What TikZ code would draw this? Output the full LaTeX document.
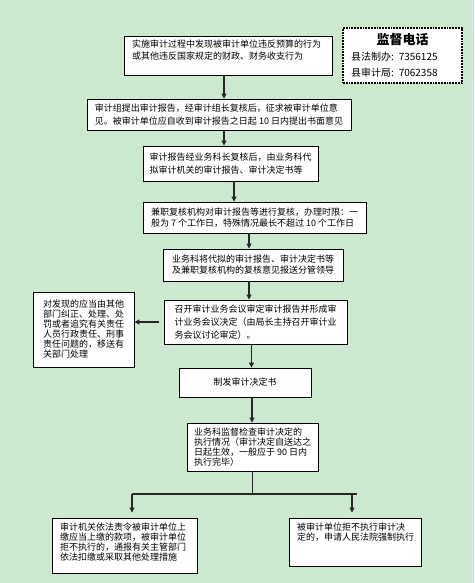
\documentclass[tikz,border=0pt]{standalone}
\usepackage{fontspec}
\setmainfont{Noto Sans CJK SC}
\usetikzlibrary{arrows.meta}
\definecolor{bggreen}{RGB}{204,232,207}
\tikzset{
  box/.style      = {draw, line width=0.9pt, fill=white, align=left, inner sep=4pt,
                     font=\fontsize{9}{13}\selectfont},
  tight/.style    = {font=\fontsize{9}{10}\selectfont},
  topalign/.style = {inner xsep=8pt, text height=8pt, text depth=#1},
  tel/.style      = {draw, line width=1.8pt, densely dotted, fill=white, align=left,
                     inner xsep=8pt, text width=103pt, font=\fontsize{10}{16}\selectfont},
  arr/.style      = {-{Triangle[length=5pt, width=5pt]}, line width=1.1pt, draw=black!85},
  ln/.style       = {line width=1.1pt, draw=black!85},
}

\begin{document}
\begin{tikzpicture}[x=1pt, y=-1pt]
  \useasboundingbox (0,0) rectangle (474,583);
  \fill[bggreen] (0,0) rectangle (474,583);
  % main column
  \node[box, topalign=23pt, font=\fontsize{9}{12}\selectfont,
        text width=192pt] (b1) at (228,55.5)
    {实施审计过程中发现被审计单位违反预算的行为\\或其他违反国家规定的财政、财务收支行为};
  \node[box, minimum width=264pt, minimum height=31pt] (b2) at (219,114.5)
    {审计组提出审计报告，经审计组长复核后，征求被审计单位意\\见。被审计单位应自收到审计报告之日起 10 日内提出书面意见};
  \node[box, minimum width=175pt, minimum height=35pt] (b3) at (230.5,163.5)
    {审计报告经业务科长复核后，由业务科代\\拟审计机关的审计报告、审计决定书等};
  \node[box, font=\fontsize{9}{11}\selectfont,
        minimum width=223pt, minimum height=31pt] (b4) at (254.5,217.5)
    {兼职复核机构对审计报告等进行复核，办理时限：一\\般为 7 个工作日，特殊情况最长不超过 10 个工作日};
  \node[box, font=\fontsize{9}{11}\selectfont,
        minimum width=180pt, minimum height=32pt] (b5) at (253,265)
    {业务科将代拟的审计报告、审计决定书等\\及兼职复核机构的复核意见报送分管领导};
  \node[box, minimum width=183pt, minimum height=44pt] (b6) at (255.5,322)
    {召开审计业务会议审定审计报告并形成审\\计业务会议决定（由局长主持召开审计业\\务会议讨论审定）。};
  \node[box, tight, minimum width=101pt, minimum height=75pt] (b7) at (83.5,329.5)
    {对发现的应当由其他\\部门纠正、处理、处\\罚或者追究有关责任\\人员行政责任、刑事\\责任问题的，移送有\\关部门处理};
  \node[box, align=center, minimum width=132pt, minimum height=29pt] (b8) at (245,382.5)
    {制发审计决定书};
  \node[box, tight, minimum width=131pt, minimum height=48pt] (b9) at (252.5,447)
    {业务科监督检查审计决定的\\执行情况（审计决定自送达之\\日起生效，一般应于 90 日内\\执行完毕）};
  % results
  \node[box, tight, topalign=39pt, text width=129pt] (b10) at (124.5,545.5)
    {审计机关依法责令被审计单位上\\缴应当上缴的款项，被审计单位\\拒不执行的，通报有关主管部门\\依法扣缴或采取其他处理措施};
  \node[box, tight, topalign=32pt, text width=116pt] (b11) at (355,542)
    {被审计单位拒不执行审计决\\定的，申请人民法院强制执行};
  % phone numbers
  \node[tel, minimum height=55pt] (tel) at (402.5,55.5)
    {\makebox[\linewidth]{\fontsize{13}{16}\selectfont\bfseries 监督电话}\\
     县法制办: 7356125\\县审计局: 7062358};
  % arrows
  \draw[arr] ([xshift=-4pt]b1.south) -- ([xshift=-4pt]b1.south |- b2.north);
  \draw[arr] ([xshift=5pt]b2.south) -- ([xshift=5pt]b2.south |- b3.north);
  \draw[arr] ([xshift=3.5pt]b3.south) -- ([xshift=3.5pt]b3.south |- b4.north);
  \draw[arr] ([xshift=-5.5pt]b4.south) -- ([xshift=-5.5pt]b4.south |- b5.north);
  \draw[arr] ([xshift=-4pt]b5.south) -- ([xshift=-4pt]b5.south |- b6.north);
  \draw[arr] ([xshift=-5pt]b6.west) -- (b6.west -| b7.east);
  \draw[arr] ([xshift=-4pt]b6.south) -- ([xshift=-4pt]b6.south |- b8.north);
  \draw[arr] ([xshift=7pt]b8.south) -- ([xshift=7pt]b8.south |- b9.north);
  % split
  \coordinate (fk) at ([yshift=-23pt]b9.south);
  \coordinate (fl) at (132,494);
  \coordinate (fr) at (357,494);
  \coordinate (fr2) at (352,494);
  \draw[ln] (b9.south) -- (fk);
  \draw[ln] (fl) -- (fr);
  \draw[arr, shorten >=5pt] (fl) -- (fl |- b10.north);
  \draw[arr, shorten >=5pt] (fr2) -- (fr2 |- b11.north);
\end{tikzpicture}
\end{document}
